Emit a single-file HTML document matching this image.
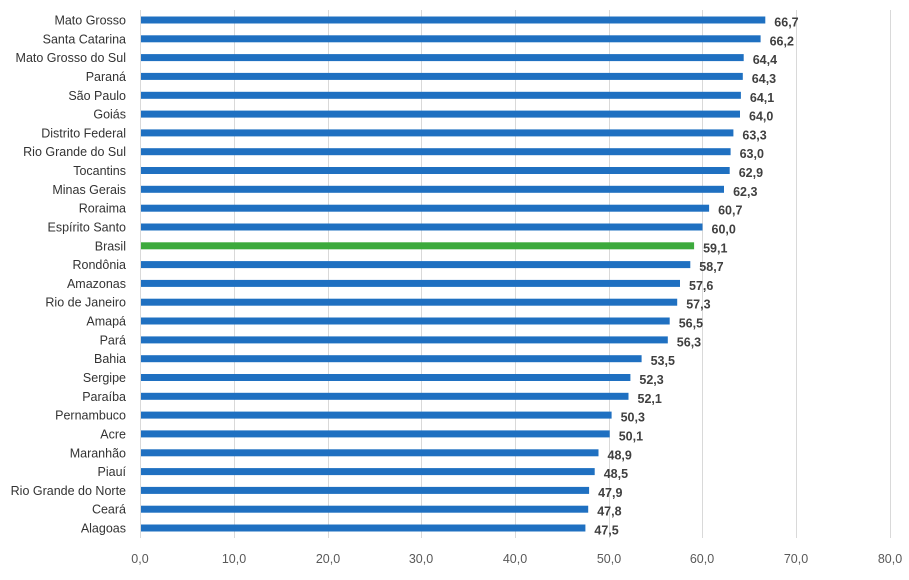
<!DOCTYPE html>
<html><head><meta charset="utf-8"><style>body{margin:0;background:#fff}</style></head><body>
<svg width="909" height="575" xmlns="http://www.w3.org/2000/svg" font-family="Liberation Sans, sans-serif">
<g stroke="#d9d9d9" stroke-width="1">
<line x1="234.5" y1="10" x2="234.5" y2="538"/><line x1="328.5" y1="10" x2="328.5" y2="538"/><line x1="421.5" y1="10" x2="421.5" y2="538"/><line x1="515.5" y1="10" x2="515.5" y2="538"/><line x1="609.5" y1="10" x2="609.5" y2="538"/><line x1="702.5" y1="10" x2="702.5" y2="538"/><line x1="796.5" y1="10" x2="796.5" y2="538"/><line x1="890.5" y1="10" x2="890.5" y2="538"/><line x1="140.5" y1="10" x2="140.5" y2="538"/>
</g>
<g font-size="12.5">
<g transform="translate(0,20)"><rect x="141" y="-3.5" width="624.3" height="7" fill="#1f70c1"/><text x="126" y="4.5" fill="#333" text-anchor="end">Mato Grosso</text><text x="774.3" y="6.5" font-weight="bold" fill="#404040">66,7</text></g>
<g transform="translate(0,38.8)"><rect x="141" y="-3.5" width="619.6" height="7" fill="#1f70c1"/><text x="126" y="4.5" fill="#333" text-anchor="end">Santa Catarina</text><text x="769.6" y="6.5" font-weight="bold" fill="#404040">66,2</text></g>
<g transform="translate(0,57.6)"><rect x="141" y="-3.5" width="602.7" height="7" fill="#1f70c1"/><text x="126" y="4.5" fill="#333" text-anchor="end">Mato Grosso do Sul</text><text x="752.7" y="6.5" font-weight="bold" fill="#404040">64,4</text></g>
<g transform="translate(0,76.4)"><rect x="141" y="-3.5" width="601.8" height="7" fill="#1f70c1"/><text x="126" y="4.5" fill="#333" text-anchor="end">Paraná</text><text x="751.8" y="6.5" font-weight="bold" fill="#404040">64,3</text></g>
<g transform="translate(0,95.3)"><rect x="141" y="-3.5" width="599.9" height="7" fill="#1f70c1"/><text x="126" y="4.5" fill="#333" text-anchor="end">São Paulo</text><text x="749.9" y="6.5" font-weight="bold" fill="#404040">64,1</text></g>
<g transform="translate(0,114.1)"><rect x="141" y="-3.5" width="599" height="7" fill="#1f70c1"/><text x="126" y="4.5" fill="#333" text-anchor="end">Goiás</text><text x="749" y="6.5" font-weight="bold" fill="#404040">64,0</text></g>
<g transform="translate(0,132.9)"><rect x="141" y="-3.5" width="592.4" height="7" fill="#1f70c1"/><text x="126" y="4.5" fill="#333" text-anchor="end">Distrito Federal</text><text x="742.4" y="6.5" font-weight="bold" fill="#404040">63,3</text></g>
<g transform="translate(0,151.7)"><rect x="141" y="-3.5" width="589.6" height="7" fill="#1f70c1"/><text x="126" y="4.5" fill="#333" text-anchor="end">Rio Grande do Sul</text><text x="739.6" y="6.5" font-weight="bold" fill="#404040">63,0</text></g>
<g transform="translate(0,170.5)"><rect x="141" y="-3.5" width="588.7" height="7" fill="#1f70c1"/><text x="126" y="4.5" fill="#333" text-anchor="end">Tocantins</text><text x="738.7" y="6.5" font-weight="bold" fill="#404040">62,9</text></g>
<g transform="translate(0,189.3)"><rect x="141" y="-3.5" width="583" height="7" fill="#1f70c1"/><text x="126" y="4.5" fill="#333" text-anchor="end">Minas Gerais</text><text x="733.1" y="6.5" font-weight="bold" fill="#404040">62,3</text></g>
<g transform="translate(0,208.2)"><rect x="141" y="-3.5" width="568.1" height="7" fill="#1f70c1"/><text x="126" y="4.5" fill="#333" text-anchor="end">Roraima</text><text x="718.1" y="6.5" font-weight="bold" fill="#404040">60,7</text></g>
<g transform="translate(0,227)"><rect x="141" y="-3.5" width="561.5" height="7" fill="#1f70c1"/><text x="126" y="4.5" fill="#333" text-anchor="end">Espírito Santo</text><text x="711.5" y="6.5" font-weight="bold" fill="#404040">60,0</text></g>
<g transform="translate(0,245.8)"><rect x="141" y="-3.5" width="553.1" height="7" fill="#3daa3d"/><text x="126" y="4.5" fill="#333" text-anchor="end">Brasil</text><text x="703.1" y="6.5" font-weight="bold" fill="#404040">59,1</text></g>
<g transform="translate(0,264.6)"><rect x="141" y="-3.5" width="549.3" height="7" fill="#1f70c1"/><text x="126" y="4.5" fill="#333" text-anchor="end">Rondônia</text><text x="699.3" y="6.5" font-weight="bold" fill="#404040">58,7</text></g>
<g transform="translate(0,283.4)"><rect x="141" y="-3.5" width="539" height="7" fill="#1f70c1"/><text x="126" y="4.5" fill="#333" text-anchor="end">Amazonas</text><text x="689" y="6.5" font-weight="bold" fill="#404040">57,6</text></g>
<g transform="translate(0,302.2)"><rect x="141" y="-3.5" width="536.2" height="7" fill="#1f70c1"/><text x="126" y="4.5" fill="#333" text-anchor="end">Rio de Janeiro</text><text x="686.2" y="6.5" font-weight="bold" fill="#404040">57,3</text></g>
<g transform="translate(0,321)"><rect x="141" y="-3.5" width="528.7" height="7" fill="#1f70c1"/><text x="126" y="4.5" fill="#333" text-anchor="end">Amapá</text><text x="678.7" y="6.5" font-weight="bold" fill="#404040">56,5</text></g>
<g transform="translate(0,339.9)"><rect x="141" y="-3.5" width="526.8" height="7" fill="#1f70c1"/><text x="126" y="4.5" fill="#333" text-anchor="end">Pará</text><text x="676.8" y="6.5" font-weight="bold" fill="#404040">56,3</text></g>
<g transform="translate(0,358.7)"><rect x="141" y="-3.5" width="500.6" height="7" fill="#1f70c1"/><text x="126" y="4.5" fill="#333" text-anchor="end">Bahia</text><text x="650.6" y="6.5" font-weight="bold" fill="#404040">53,5</text></g>
<g transform="translate(0,377.5)"><rect x="141" y="-3.5" width="489.4" height="7" fill="#1f70c1"/><text x="126" y="4.5" fill="#333" text-anchor="end">Sergipe</text><text x="639.4" y="6.5" font-weight="bold" fill="#404040">52,3</text></g>
<g transform="translate(0,396.3)"><rect x="141" y="-3.5" width="487.5" height="7" fill="#1f70c1"/><text x="126" y="4.5" fill="#333" text-anchor="end">Paraíba</text><text x="637.5" y="6.5" font-weight="bold" fill="#404040">52,1</text></g>
<g transform="translate(0,415.1)"><rect x="141" y="-3.5" width="470.6" height="7" fill="#1f70c1"/><text x="126" y="4.5" fill="#333" text-anchor="end">Pernambuco</text><text x="620.6" y="6.5" font-weight="bold" fill="#404040">50,3</text></g>
<g transform="translate(0,433.9)"><rect x="141" y="-3.5" width="468.7" height="7" fill="#1f70c1"/><text x="126" y="4.5" fill="#333" text-anchor="end">Acre</text><text x="618.7" y="6.5" font-weight="bold" fill="#404040">50,1</text></g>
<g transform="translate(0,452.8)"><rect x="141" y="-3.5" width="457.5" height="7" fill="#1f70c1"/><text x="126" y="4.5" fill="#333" text-anchor="end">Maranhão</text><text x="607.5" y="6.5" font-weight="bold" fill="#404040">48,9</text></g>
<g transform="translate(0,471.6)"><rect x="141" y="-3.5" width="453.7" height="7" fill="#1f70c1"/><text x="126" y="4.5" fill="#333" text-anchor="end">Piauí</text><text x="603.7" y="6.5" font-weight="bold" fill="#404040">48,5</text></g>
<g transform="translate(0,490.4)"><rect x="141" y="-3.5" width="448.1" height="7" fill="#1f70c1"/><text x="126" y="4.5" fill="#333" text-anchor="end">Rio Grande do Norte</text><text x="598.1" y="6.5" font-weight="bold" fill="#404040">47,9</text></g>
<g transform="translate(0,509.2)"><rect x="141" y="-3.5" width="447.2" height="7" fill="#1f70c1"/><text x="126" y="4.5" fill="#333" text-anchor="end">Ceará</text><text x="597.2" y="6.5" font-weight="bold" fill="#404040">47,8</text></g>
<g transform="translate(0,528)"><rect x="141" y="-3.5" width="444.4" height="7" fill="#1f70c1"/><text x="126" y="4.5" fill="#333" text-anchor="end">Alagoas</text><text x="594.4" y="6.5" font-weight="bold" fill="#404040">47,5</text></g>
</g>
<g font-size="12.5" fill="#595959" text-anchor="middle">
<text x="140" y="563">0,0</text><text x="234" y="563">10,0</text><text x="328" y="563">20,0</text><text x="421" y="563">30,0</text><text x="515" y="563">40,0</text><text x="609" y="563">50,0</text><text x="702" y="563">60,0</text><text x="796" y="563">70,0</text><text x="890" y="563">80,0</text>
</g>
</svg>
</body></html>
